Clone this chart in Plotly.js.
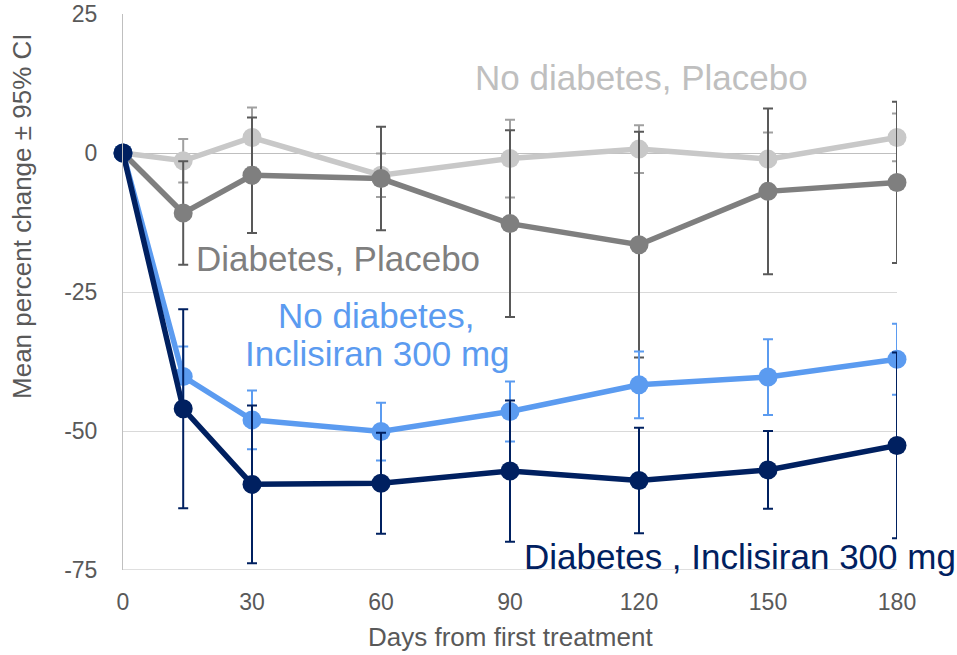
<!DOCTYPE html>
<html>
<head>
<meta charset="utf-8">
<script src="https://cdn.plot.ly/plotly-3.0.1.min.js"></script>
<style>html,body{margin:0;padding:0;background:#fff;}#chart{width:957px;height:655px;}</style>
</head>
<body>
<div id="chart"></div>
<script>
const days = [0, 14, 30, 60, 90, 120, 150, 180];
const xTickVals = [0, 30, 60, 90, 120, 150, 180];
const yTickVals = [-75, -50, -25, 0, 25];
const yTickText = ["-75", "-50", "-25", "0", "25"];

const noDiabPlacebo   = [0, -1.4, 2.8, -4.0, -1.0, 0.7, -1.1, 2.8];
const noDiabPlaceboCI = [0, 3.9, 5.4, 3.9, 7.0, 4.3, 4.8, 4.3];
const diabPlacebo     = [0, -10.8, -4.0, -4.6, -12.7, -16.5, -6.9, -5.3];
const diabPlaceboCI   = [0, 9.3, 10.4, 9.3, 16.8, 20.3, 14.9, 14.5];
const noDiabIncl      = [0, -40.2, -48.0, -50.1, -46.5, -41.7, -40.3, -37.1];
const noDiabInclCI    = [0, 5.4, 5.3, 5.2, 5.4, 6.0, 6.8, 6.4];
const diabIncl        = [0, -46.0, -59.6, -59.4, -57.2, -58.9, -57.0, -52.6];
const diabInclCI      = [0, 17.9, 14.2, 9.1, 12.7, 9.5, 7.0, 16.7];

const seriesLabels = ["No diabetes, Placebo", "Diabetes, Placebo", "No diabetes,", "Inclisiran 300 mg", "Diabetes , Inclisiran 300 mg"];
const xTitle = "Days from first treatment";
const yTitle = "Mean percent change ± 95% CI";

const FONT = "Liberation Sans, Arial, sans-serif";

function mk(y, ci, color, errColor, name) {
  return {
    x: days, y: y, type: 'scatter', mode: 'lines+markers', name: name,
    line: {color: color, width: 5.5},
    marker: {color: color, size: 19},
    error_y: {type: 'data', array: ci, visible: true, color: errColor, thickness: 2, width: 5},
    cliponaxis: false, hoverinfo: 'x+y'
  };
}

const traces = [
  mk(noDiabPlacebo, noDiabPlaceboCI, '#c8c8c8', '#a0a0a0', seriesLabels[0]),
  mk(diabPlacebo, diabPlaceboCI, '#7f7f7f', '#595959', seriesLabels[1]),
  mk(noDiabIncl, noDiabInclCI, '#5b9bf0', '#5b9bf0', 'No diabetes, Inclisiran 300 mg'),
  mk(diabIncl, diabInclCI, '#002060', '#002060', seriesLabels[4])
];

const annFont = (c) => ({family: FONT, size: 35, color: c});

const layout = {
  width: 957, height: 655,
  margin: {l: 123, r: 60, t: 14, b: 85},
  paper_bgcolor: '#ffffff', plot_bgcolor: '#ffffff',
  showlegend: false,
  font: {family: FONT, color: '#595959'},
  xaxis: {
    range: [0, 180], tickvals: xTickVals, ticks: '', showgrid: false,
    zeroline: false, showline: false,
    tickfont: {family: FONT, size: 23, color: '#595959'},
    ticklabelstandoff: 16
  },
  yaxis: {
    range: [-75, 25], tickvals: yTickVals, ticktext: yTickText, ticks: '',
    showgrid: true, gridcolor: '#d9d9d9', gridwidth: 1,
    zeroline: true, zerolinecolor: '#bfbfbf', zerolinewidth: 1,
    showline: true, linecolor: '#bfbfbf', linewidth: 1,
    tickfont: {family: FONT, size: 23, color: '#595959'},
    ticklabelstandoff: 20
  },
  shapes: [
    {type: 'line', xref: 'paper', yref: 'y', x0: 0, x1: 1, y0: -75, y1: -75, line: {color: '#bfbfbf', width: 1}, layer: 'below'}
  ],
  annotations: [
    {text: seriesLabels[0], x: 120.6, y: 13.5, xref: 'x', yref: 'y', showarrow: false, xanchor: 'center', yanchor: 'middle', font: annFont('#bfbfbf')},
    {text: seriesLabels[1], x: 50.1, y: -18.9, xref: 'x', yref: 'y', showarrow: false, xanchor: 'center', yanchor: 'middle', font: annFont('#7f7f7f')},
    {text: seriesLabels[2], x: 59.0, y: -29.3, xref: 'x', yref: 'y', showarrow: false, xanchor: 'center', yanchor: 'middle', font: annFont('#5b9bf0')},
    {text: seriesLabels[3], x: 59.2, y: -36.0, xref: 'x', yref: 'y', showarrow: false, xanchor: 'center', yanchor: 'middle', font: annFont('#5b9bf0')},
    {text: seriesLabels[4], x: 143.5, y: -72.5, xref: 'x', yref: 'y', showarrow: false, xanchor: 'center', yanchor: 'middle', font: annFont('#002060')},
    {text: xTitle, x: 0.5, y: -0.1205, xref: 'paper', yref: 'paper', showarrow: false, xanchor: 'center', yanchor: 'middle', font: {family: FONT, size: 26, color: '#595959'}},
    {text: yTitle, x: -0.1305, y: 0.6367, xref: 'paper', yref: 'paper', showarrow: false, textangle: -90, xanchor: 'center', yanchor: 'middle', font: {family: FONT, size: 26, color: '#595959'}}
  ]
};

Plotly.newPlot('chart', traces, layout, {displayModeBar: false, staticPlot: true});
</script>
</body>
</html>
